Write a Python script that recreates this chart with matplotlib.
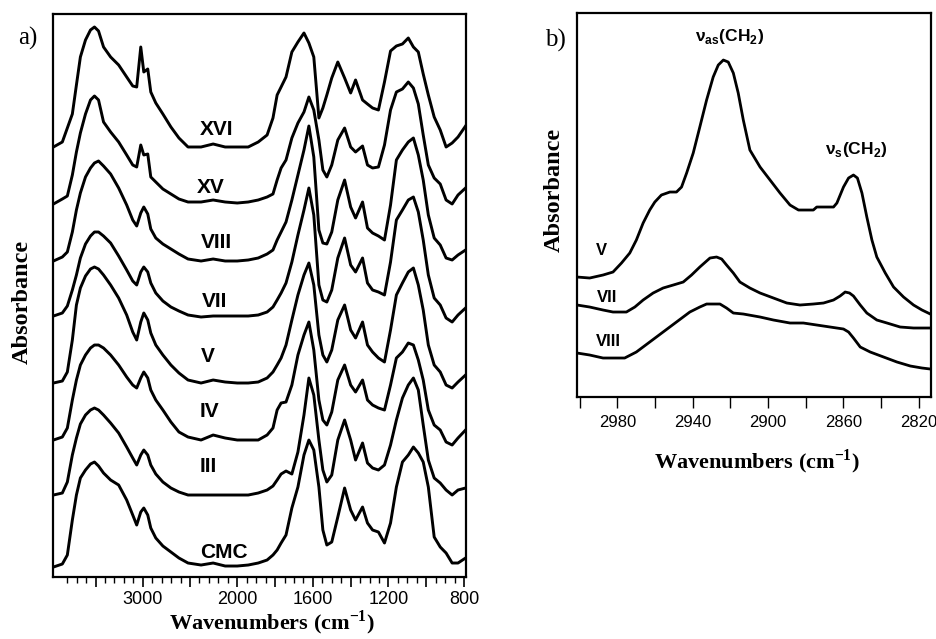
import numpy as np
import matplotlib
matplotlib.use("Agg")
import matplotlib.pyplot as plt

plt.rcParams['font.family'] = ['Liberation Sans', 'DejaVu Sans']

# ---- panel a) : stacked FTIR spectra (absorbance incl. stacking offset) ----
wn_left = [3945, 3851, 3798, 3745, 3702, 3660, 3606, 3553, 3511, 3468,
           3415, 3340, 3255, 3170, 3106, 3064, 3021, 2989, 2947, 2915,
           2862, 2787, 2702, 2617, 2521, 2383, 2255, 2128, 2000, 1942,
           1889, 1842, 1811, 1789, 1768, 1742, 1711, 1679, 1647, 1621,
           1595, 1568, 1547, 1526, 1500, 1468, 1432, 1400, 1374, 1337,
           1311, 1284, 1253, 1221, 1189, 1158, 1126, 1095, 1068, 1042,
           1016, 989, 958, 926, 895, 863, 832, 792]

a_xvi = [4.30, 4.35, 4.49, 4.63, 4.92, 5.20, 5.37, 5.47, 5.50, 5.46,
         5.30, 5.20, 5.12, 5.00, 4.91, 4.90, 5.30, 5.05, 5.08, 4.85,
         4.74, 4.63, 4.50, 4.39, 4.30, 4.30, 4.33, 4.30, 4.30, 4.30,
         4.35, 4.42, 4.59, 4.82, 4.90, 5.00, 5.25, 5.35, 5.44, 5.34,
         5.20, 4.59, 4.69, 4.82, 4.99, 5.15, 4.99, 4.84, 4.97, 4.77,
         4.73, 4.69, 4.67, 4.95, 5.26, 5.31, 5.33, 5.39, 5.30, 5.25,
         5.03, 4.82, 4.60, 4.47, 4.30, 4.34, 4.40, 4.51]
a_xv = [3.73, 3.78, 3.81, 4.02, 4.25, 4.44, 4.63, 4.77, 4.81, 4.77,
        4.55, 4.45, 4.35, 4.22, 4.12, 4.10, 4.32, 4.22, 4.23, 4.00,
        3.95, 3.88, 3.83, 3.78, 3.75, 3.75, 3.77, 3.75, 3.74, 3.75,
        3.77, 3.80, 3.83, 3.97, 4.09, 4.17, 4.39, 4.54, 4.65, 4.80,
        4.67, 4.37, 4.07, 4.00, 4.12, 4.37, 4.49, 4.30, 4.25, 4.31,
        4.12, 4.09, 4.10, 4.32, 4.67, 4.85, 4.88, 4.95, 4.89, 4.73,
        4.42, 4.12, 3.99, 3.93, 3.77, 3.73, 3.82, 3.89]
a_viii = [3.16, 3.20, 3.25, 3.45, 3.67, 3.84, 4.00, 4.09, 4.14, 4.16,
          4.11, 4.03, 3.89, 3.72, 3.57, 3.51, 3.64, 3.70, 3.63, 3.48,
          3.39, 3.33, 3.28, 3.23, 3.18, 3.16, 3.18, 3.16, 3.16, 3.17,
          3.19, 3.23, 3.27, 3.37, 3.45, 3.55, 3.77, 4.02, 4.27, 4.51,
          4.20, 3.47, 3.34, 3.33, 3.45, 3.77, 3.97, 3.70, 3.59, 3.75,
          3.49, 3.44, 3.41, 3.37, 3.72, 4.17, 4.27, 4.35, 4.39, 4.22,
          3.97, 3.62, 3.39, 3.32, 3.19, 3.17, 3.22, 3.27]
a_vii = [2.61, 2.64, 2.71, 2.87, 3.02, 3.19, 3.33, 3.41, 3.45, 3.45,
         3.41, 3.34, 3.21, 3.07, 2.96, 2.92, 3.05, 3.10, 3.05, 2.94,
         2.84, 2.76, 2.70, 2.66, 2.62, 2.60, 2.61, 2.61, 2.61, 2.61,
         2.62, 2.65, 2.70, 2.77, 2.84, 2.94, 3.15, 3.42, 3.67, 3.89,
         3.62, 2.92, 2.77, 2.75, 2.87, 3.19, 3.39, 3.12, 3.05, 3.19,
         2.94, 2.87, 2.85, 2.82, 3.15, 3.57, 3.67, 3.77, 3.80, 3.65,
         3.37, 3.02, 2.79, 2.72, 2.59, 2.55, 2.62, 2.69]
a_v = [1.94, 1.96, 2.05, 2.37, 2.72, 2.89, 3.01, 3.08, 3.10, 3.08,
       3.02, 2.92, 2.79, 2.62, 2.45, 2.37, 2.55, 2.64, 2.57, 2.44,
       2.32, 2.22, 2.12, 2.04, 1.97, 1.94, 1.97, 1.95, 1.94, 1.94,
       1.95, 1.99, 2.05, 2.12, 2.19, 2.32, 2.57, 2.82, 3.02, 3.14,
       2.92, 2.42, 2.22, 2.15, 2.27, 2.57, 2.72, 2.47, 2.39, 2.55,
       2.32, 2.25, 2.19, 2.15, 2.47, 2.82, 2.94, 3.05, 3.09, 2.92,
       2.67, 2.32, 2.12, 2.05, 1.92, 1.89, 1.95, 2.02]
a_iv = [1.37, 1.40, 1.49, 1.77, 1.97, 2.12, 2.22, 2.29, 2.32, 2.32,
        2.29, 2.22, 2.12, 2.00, 1.92, 1.89, 1.99, 2.05, 1.99, 1.87,
        1.77, 1.67, 1.55, 1.45, 1.40, 1.37, 1.42, 1.39, 1.37, 1.37,
        1.37, 1.42, 1.49, 1.67, 1.74, 1.75, 1.92, 2.22, 2.42, 2.55,
        2.27, 1.77, 1.57, 1.52, 1.65, 1.97, 2.12, 1.92, 1.85, 1.97,
        1.77, 1.72, 1.69, 1.67, 1.92, 2.19, 2.25, 2.34, 2.32, 2.17,
        1.97, 1.67, 1.52, 1.47, 1.35, 1.32, 1.39, 1.47]
a_iii = [0.82, 0.84, 0.95, 1.22, 1.39, 1.53, 1.62, 1.67, 1.69, 1.67,
         1.62, 1.54, 1.44, 1.30, 1.19, 1.12, 1.22, 1.27, 1.22, 1.12,
         1.03, 0.95, 0.89, 0.85, 0.82, 0.82, 0.82, 0.82, 0.82, 0.82,
         0.84, 0.87, 0.91, 0.97, 1.03, 1.06, 1.03, 1.25, 1.62, 1.99,
         1.82, 1.37, 1.07, 0.95, 1.02, 1.37, 1.57, 1.37, 1.17, 1.34,
         1.14, 1.09, 1.07, 1.12, 1.32, 1.57, 1.79, 1.92, 1.99, 1.87,
         1.52, 1.17, 0.99, 0.94, 0.87, 0.82, 0.87, 0.89]
a_cmc = [0.10, 0.13, 0.22, 0.57, 0.82, 0.99, 1.07, 1.13, 1.15, 1.11,
         1.04, 0.97, 0.92, 0.77, 0.62, 0.52, 0.65, 0.69, 0.62, 0.49,
         0.39, 0.31, 0.25, 0.19, 0.14, 0.12, 0.14, 0.11, 0.11, 0.12,
         0.14, 0.17, 0.22, 0.27, 0.34, 0.42, 0.69, 0.90, 1.22, 1.37,
         1.27, 0.90, 0.47, 0.32, 0.35, 0.60, 0.89, 0.67, 0.57, 0.70,
         0.54, 0.47, 0.45, 0.34, 0.54, 0.90, 1.15, 1.22, 1.30, 1.24,
         1.15, 0.90, 0.40, 0.30, 0.24, 0.14, 0.14, 0.19]

samples_left = ['XVI', 'XV', 'VIII', 'VII', 'V', 'IV', 'III', 'CMC']
spectra_left = [a_xvi, a_xv, a_viii, a_vii, a_v, a_iv, a_iii, a_cmc]
# label anchor (wavenumber, absorbance) for each curve name
label_wn = [2223, 2277, 2223, 2245, 2309, 2298, 2309, 2138]
label_a = [4.47, 3.90, 3.35, 2.76, 2.21, 1.66, 1.11, 0.25]

# ---- panel b) : C-H stretching region ----
wn_b_v = [3001.4, 2994.7, 2987.6, 2982.3, 2977.8, 2973.4, 2969.9, 2966.3, 2962.8, 2960.1,
          2956.6, 2952.1, 2948.6, 2945.9, 2943.2, 2939.7, 2936.2, 2932.6, 2929.1, 2926.4,
          2923.7, 2921.1, 2918.4, 2915.8, 2913.1, 2909.6, 2904.2, 2898.9, 2893.6, 2888.3,
          2883.8, 2875.9, 2874.1, 2865.2, 2863.4, 2859.9, 2857.2, 2854.6, 2852.5, 2850.1,
          2847.5, 2844.8, 2842.2, 2837.7, 2833.3, 2828.0, 2822.7, 2818.2, 2813.8]
a_b_v = [1.20, 1.19, 1.22, 1.25, 1.34, 1.44, 1.57, 1.74, 1.87, 1.95,
         2.02, 2.05, 2.05, 2.10, 2.24, 2.44, 2.70, 2.97, 3.20, 3.32,
         3.37, 3.35, 3.24, 3.04, 2.77, 2.47, 2.30, 2.17, 2.04, 1.92,
         1.87, 1.87, 1.90, 1.90, 1.94, 2.10, 2.19, 2.22, 2.19, 2.04,
         1.80, 1.57, 1.40, 1.24, 1.10, 1.00, 0.92, 0.87, 0.83]
wn_b_vii = [3001.4, 2994.7, 2987.6, 2982.3, 2975.2, 2970.7, 2966.3, 2961.0, 2955.7, 2950.3,
            2945.0, 2940.6, 2936.2, 2930.8, 2927.3, 2924.6, 2922.0, 2918.4, 2914.9, 2909.6,
            2904.2, 2897.1, 2890.0, 2883.0, 2875.9, 2870.5, 2865.2, 2861.7, 2859.0, 2856.7,
            2854.6, 2851.0, 2847.5, 2842.2, 2836.8, 2829.8, 2822.7, 2813.8]
a_b_vii = [0.92, 0.90, 0.87, 0.85, 0.85, 0.90, 0.97, 1.04, 1.09, 1.12,
           1.15, 1.22, 1.30, 1.39, 1.40, 1.38, 1.32, 1.24, 1.15, 1.09,
           1.04, 0.99, 0.94, 0.92, 0.93, 0.94, 0.97, 1.01, 1.05, 1.04,
           1.01, 0.92, 0.84, 0.77, 0.74, 0.70, 0.69, 0.69]
wn_b_viii = [3001.4, 2994.7, 2987.6, 2976.1, 2969.9, 2962.8, 2955.7, 2948.6, 2941.5, 2936.2,
             2932.6, 2925.5, 2922.0, 2918.4, 2913.1, 2904.2, 2897.1, 2888.3, 2881.2, 2874.1,
             2867.0, 2859.9, 2857.2, 2854.6, 2851.0, 2845.7, 2838.6, 2831.5, 2824.4, 2818.2,
             2813.8]
a_b_viii = [0.44, 0.42, 0.39, 0.39, 0.45, 0.55, 0.65, 0.75, 0.85, 0.90,
            0.93, 0.93, 0.89, 0.84, 0.83, 0.80, 0.77, 0.74, 0.74, 0.72,
            0.70, 0.68, 0.65, 0.59, 0.50, 0.45, 0.40, 0.35, 0.31, 0.29,
            0.28]


def fwd(x):
    x = np.asarray(x, dtype=float)
    return np.where(x > 2000, 2000 + (x - 2000) / 2.0, x)


def inv(u):
    u = np.asarray(u, dtype=float)
    return np.where(u > 2000, 2000 + (u - 2000) * 2.0, u)


fig = plt.figure(figsize=(9.36, 6.39), dpi=100)
ax1 = fig.add_axes([0.0566, 0.0970, 0.4412, 0.8811])
ax2 = fig.add_axes([0.6165, 0.3787, 0.3782, 0.6009])

# panel a
ax1.set_xscale('function', functions=(fwd, inv))
for name, a, lx, ly in zip(samples_left, spectra_left, label_wn, label_a):
    ax1.plot(wn_left, a, color='black', lw=2.1, solid_joinstyle='round')
    ax1.text(lx, ly, name, ha='center', va='center', fontsize=15, fontweight='bold')
ax1.set_xlim(3950, 790)
ax1.set_ylim(0, 5.63)
ax1.set_yticks([])
ax1.set_xticks([3500, 3000, 2500, 2000, 1800, 1600, 1400, 1200, 1000, 800])
ax1.set_xticklabels(['', '3000', '', '2000', '', '1600', '', '1200', '', '800'])
ax1.set_xticks([3800, 3700, 3600, 3400, 3300, 3200, 3100, 2900, 2800, 2700, 2600,
                2400, 2300, 2200, 2100, 1950, 1900, 1850, 1750, 1700, 1650,
                1550, 1500, 1450, 1350, 1300, 1250, 1150, 1100, 1050,
                950, 900, 850], minor=True)
ax1.tick_params(axis='x', which='major', direction='out', length=7, width=1.2,
                labelsize=13, pad=3)
ax1.tick_params(axis='x', which='minor', direction='out', length=4, width=1.0)
for s in ax1.spines.values():
    s.set_linewidth(1.6)

# panel b
ax2.plot(wn_b_v, a_b_v, color='black', lw=2.0)
ax2.plot(wn_b_vii, a_b_vii, color='black', lw=2.0)
ax2.plot(wn_b_viii, a_b_viii, color='black', lw=2.0)
ax2.set_xlim(3001.4, 2813.4)
ax2.set_ylim(0, 3.84)
ax2.set_yticks([])
ax2.set_xticks([3000, 2980, 2960, 2940, 2920, 2900, 2880, 2860, 2840, 2820])
ax2.set_xticklabels(['', '2980', '', '2940', '', '2900', '', '2860', '', '2820'])
ax2.tick_params(axis='x', direction='out', length=8, width=1.0, labelsize=12, pad=5)
for s in ax2.spines.values():
    s.set_linewidth(1.6)

ax2.text(2988.3, 1.47, 'V', ha='center', va='center', fontsize=12, fontweight='bold')
ax2.text(2985.6, 1.00, 'VII', ha='center', va='center', fontsize=12, fontweight='bold')
ax2.text(2984.6, 0.56, 'VIII', ha='center', va='center', fontsize=12, fontweight='bold')
ax2.text(2920.5, 3.61, r'ν$_\mathregular{as}$(CH$_\mathregular{2}$)', ha='center', va='center',
         fontsize=12.5, fontweight='bold')
ax2.text(2853.0, 2.48, r'ν$_\mathregular{s}$(CH$_\mathregular{2}$)', ha='center', va='center',
         fontsize=12.5, fontweight='bold')

serif = ['Liberation Serif', 'DejaVu Serif']
fig.text(0.030, 0.940, 'a)', family=serif, fontsize=18, ha='center', va='center')
fig.text(0.594, 0.937, 'b)', family=serif, fontsize=18, ha='center', va='center')
fig.text(0.0235, 0.527, 'Absorbance', family=serif, fontsize=17.5, fontweight='bold',
         rotation=90, ha='center', va='center')
fig.text(0.592, 0.703, 'Absorbance', family=serif, fontsize=17.5, fontweight='bold',
         rotation=90, ha='center', va='center')
fig.text(0.291, 0.003, r'Wavenumbers (cm$^\mathregular{-1}$)', family=serif, fontsize=16,
         fontweight='bold', ha='center', va='bottom')
fig.text(0.809, 0.277, r'Wavenumbers (cm$^\mathregular{-1}$)', family=serif, fontsize=16,
         fontweight='bold', ha='center', va='center')

fig.savefig('out.png', dpi=100)
